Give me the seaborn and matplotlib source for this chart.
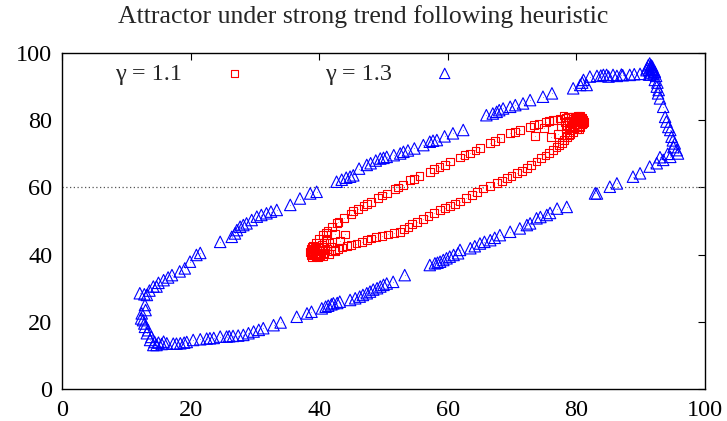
import numpy as np
import pandas as pd
import seaborn as sns
import matplotlib.pyplot as plt

# gamma = 1.1 : narrow elliptical attractor
red_x = [39.0, 39.5, 40.0, 40.6, 41.3, 42.0, 42.8, 43.8, 44.9, 46.0, 46.9, 48.0, 49.2, 50.5,
         51.8, 53.0, 54.1, 55.6, 57.2, 58.7, 60.3, 61.9, 63.5, 65.0, 66.6, 68.2, 69.7, 71.2,
         72.8, 74.1, 75.3, 76.4, 77.4, 78.3, 79.1, 79.8, 80.4, 80.9,
         81.1, 81.0, 80.6, 80.1, 79.5, 78.9, 78.5, 77.7, 76.9, 76.4, 75.2, 73.8, 72.3, 70.7,
         69.2, 67.6, 65.5, 63.7, 61.9, 60.3, 58.8, 57.0, 55.2, 53.9, 52.6, 50.7, 48.9, 47.4,
         45.8, 44.3, 43.0, 41.8, 40.8, 40.0, 39.3, 38.8, 38.6, 38.7,
         39.1, 39.6, 40.2, 39.4, 40.5, 41.2, 39.9, 40.6, 41.5, 42.4, 38.9, 41.0, 42.5, 43.2,
         44.0, 39.2, 39.8, 40.4, 41.6,
         79.6, 80.2, 80.5, 79.9, 78.8, 79.3, 80.0, 78.4, 77.6, 79.0, 80.8, 77.2, 76.0, 75.0,
         73.5, 80.3, 79.4, 78.0,
         41.0, 43.0, 45.3, 47.5, 49.8, 52.3, 54.8, 57.8, 59.5, 62.6, 64.3, 67.4, 70.5, 73.4,
         75.8, 77.0, 78.7, 79.4, 80.6,
         80.4, 79.0, 78.1, 77.3, 75.8, 74.5, 73.0, 71.5, 69.9, 68.4, 66.5, 64.6, 62.8, 61.1,
         59.5, 57.9, 56.1, 54.5, 53.2, 51.6, 49.8, 48.1, 46.6, 45.0, 43.6, 42.4,
         38.7, 39.0, 39.5, 40.2, 39.7, 40.9, 41.8, 40.0, 40.8, 38.9,
         80.9, 80.7, 80.1, 79.2, 80.4, 78.2, 79.7, 81.2, 80.0, 78.6]
red_y = [42.6, 43.6, 44.6, 45.8, 47.0, 48.2, 49.4, 50.8, 52.2, 53.6, 54.4, 55.6, 56.9, 58.2,
         59.6, 60.8, 62.2, 63.4, 64.7, 66.1, 67.7, 68.9, 70.1, 71.7, 73.1, 74.6, 76.1, 77.0,
         78.0, 78.8, 79.5, 80.1, 80.5, 80.8, 81.0, 81.1, 81.0, 80.6,
         80.0, 79.2, 78.1, 77.3, 76.4, 75.6, 75.1, 73.3, 72.0, 71.1, 69.5, 67.7, 65.8, 64.2,
         62.7, 61.2, 59.7, 57.7, 55.8, 54.5, 53.3, 51.5, 49.8, 48.2, 46.8, 46.0, 45.3, 44.3,
         43.3, 42.5, 41.8, 41.0, 40.4, 40.0, 39.8, 40.2, 40.9, 41.8,
         40.6, 41.2, 41.0, 42.0, 42.8, 41.6, 39.2, 39.5, 40.2, 41.0, 39.4, 44.0, 46.2, 44.2,
         46.0, 41.4, 40.3, 42.2, 43.4,
         79.8, 79.5, 80.3, 80.6, 79.7, 78.4, 78.8, 77.8, 78.4, 77.0, 79.6, 76.0, 75.0, 77.6,
         75.2, 81.2, 80.9, 81.4,
         46.6, 49.6, 52.9, 55.0, 57.6, 60.0, 62.6, 65.5, 66.8, 69.6, 71.0, 73.7, 76.6, 78.5,
         79.8, 80.1, 81.0, 80.5, 81.2,
         77.4, 76.0, 74.2, 72.7, 70.3, 68.7, 66.6, 64.9, 63.3, 61.9, 60.4, 58.7, 56.8, 55.1,
         53.9, 52.4, 50.6, 49.0, 47.5, 46.4, 45.6, 44.8, 43.8, 42.9, 42.1, 41.4,
         40.0, 41.0, 39.5, 39.6, 40.6, 41.4, 42.4, 42.0, 43.4, 42.2,
         79.0, 80.6, 80.9, 79.2, 78.3, 79.4, 77.7, 79.6, 80.0, 78.6]

# gamma = 1.3 : large loop attractor
blue_x = [14.7, 15.5, 16.3, 17.3, 18.4, 19.4, 20.4, 21.5, 22.5, 23.6, 24.6, 25.6, 26.6, 27.4,
          28.2, 29.8, 31.3, 32.9, 34.0, 36.5, 38.1, 38.8, 40.4, 41.4, 42.2, 43.2, 44.8, 45.6,
          46.3, 47.4, 48.4, 49.5, 50.5, 51.5, 53.3, 57.2, 58.0, 58.8, 59.8, 60.3, 61.6, 61.9,
          63.5, 65.0, 66.6, 68.1, 69.7, 71.2, 72.8, 73.8, 75.4, 77.0, 78.5, 82.9,
          83.2, 85.2, 86.3, 88.8, 89.9, 91.4, 92.5, 93.5, 94.6, 95.8, 95.6, 95.3, 94.8, 94.6,
          94.0, 93.5, 93.0, 92.7, 92.5, 92.2, 92.0, 91.7, 91.4, 91.2, 90.9, 91.5, 91.9, 91.6,
          91.3, 92.1, 91.8,
          89.9, 88.3, 86.3, 84.7, 83.2, 82.1, 81.1, 80.6, 79.5, 81.6, 84.2, 85.7, 87.2,
          76.2, 74.8, 72.8, 71.7, 69.7, 68.6, 67.6, 66.0, 62.4, 60.8, 58.3, 57.2, 56.2, 53.1,
          52.6, 50.5, 49.5, 47.4, 46.2, 44.8, 42.7, 39.6, 38.6, 37.0, 35.5, 33.4, 31.8, 30.3,
          28.7, 27.7, 26.9, 26.4, 24.6, 20.9, 19.9, 19.1, 17.1, 15.8, 14.7, 14.2, 13.2, 12.1,
          12.9,
          12.4, 12.6, 12.9, 13.2, 13.7, 14.2, 12.3, 12.8, 13.4, 13.9, 15.0, 15.8, 13.0, 14.4,
          41.0, 41.9, 42.8, 46.8, 47.9, 49.0, 50.0, 58.4, 59.3, 60.9, 64.2, 65.7, 67.3, 72.3,
          74.4, 75.9, 29.0, 30.6, 26.0, 23.0, 19.0, 17.8,
          43.5, 44.2, 45.3, 48.0, 48.8, 50.0, 51.6, 53.8, 54.8, 57.7, 59.5, 67.0, 68.0, 70.5,
          27.2, 28.2, 29.5, 31.0, 32.5, 18.3, 16.5, 15.0, 13.6, 12.8, 21.5,
          91.0, 91.3, 91.6, 91.9, 92.2, 91.5, 92.4, 92.6, 92.8,
          95.1, 95.0, 94.3, 93.8, 94.2, 93.0,
          87.0, 89.0, 83.8, 80.9, 85.0]
blue_y = [13.1, 13.4, 13.6, 13.5, 13.6, 14.0, 14.6, 14.8, 15.0, 15.2, 15.6, 15.6, 15.8, 15.9,
          16.1, 17.1, 18.1, 19.0, 19.8, 21.5, 22.5, 23.0, 24.0, 24.8, 25.5, 26.0, 26.5, 27.0,
          27.5, 28.5, 29.6, 30.5, 31.4, 31.9, 33.9, 36.9, 37.4, 37.9, 38.9, 39.4, 40.4, 41.4,
          41.9, 43.3, 44.3, 45.8, 46.8, 47.8, 49.3, 50.8, 51.8, 53.7, 54.2, 58.2,
          58.2, 60.2, 61.2, 63.2, 64.2, 66.2, 67.2, 68.2, 69.1, 70.1, 71.1, 73.1, 75.1, 77.1,
          79.6, 84.0, 86.5, 88.0, 90.0, 92.0, 93.9, 95.4, 96.9, 96.4, 94.9, 95.8, 95.0, 94.2,
          93.6, 94.6, 96.0,
          93.8, 93.5, 93.2, 93.5, 93.2, 93.0, 92.0, 90.5, 89.5, 90.5, 93.5, 93.5, 93.4,
          88.0, 87.0, 86.0, 85.0, 84.0, 83.5, 82.5, 81.5, 77.1, 76.1, 74.1, 73.6, 72.6, 70.6,
          70.1, 69.1, 68.6, 66.7, 65.6, 63.2, 61.7, 58.7, 58.2, 56.7, 54.8, 53.3, 52.3, 51.3,
          49.3, 48.3, 46.3, 45.3, 43.8, 39.9, 37.9, 35.9, 33.9, 32.4, 30.5, 30.5, 28.0, 28.5,
          25.0,
          22.5, 20.5, 18.5, 16.6, 14.6, 13.1, 21.0, 19.5, 17.5, 15.5, 13.8, 14.1, 23.5, 14.0,
          24.5, 25.2, 25.6, 28.0, 29.0, 30.0, 31.0, 37.6, 38.4, 39.9, 42.5, 43.8, 45.0, 48.8,
          51.2, 52.4, 16.6, 17.6, 15.7, 15.1, 13.8, 13.5,
          62.3, 62.9, 63.6, 67.2, 68.0, 68.8, 69.6, 71.0, 71.6, 73.9, 75.2, 82.0, 83.0, 84.5,
          47.3, 48.8, 50.3, 51.8, 52.8, 35.0, 33.2, 31.6, 29.3, 28.2, 40.5,
          95.5, 95.0, 96.4, 95.2, 94.4, 93.6, 93.2, 91.2, 89.0,
          72.0, 74.0, 78.0, 81.0, 70.0, 69.0,
          93.6, 93.7, 93.3, 91.2, 93.0]

label_a = "γ = 1.1"
label_b = "γ = 1.3"
title = "Attractor under strong trend following heuristic"
ticks = [0, 20, 40, 60, 80, 100]
ref_level = 60

sns.set_theme(style="white")
plt.rcParams["font.family"] = ["Liberation Serif", "DejaVu Serif"]

fig = plt.figure(figsize=(7.27, 4.21), dpi=100)
ax = fig.add_axes([0.0853, 0.076, 0.8844, 0.798])

df_a = pd.DataFrame({"x": red_x, "y": red_y})
df_b = pd.DataFrame({"x": blue_x, "y": blue_y})

ax.axhline(ref_level, color="#555555", linestyle=(0, (1, 2)), linewidth=0.9, zorder=1)

sns.scatterplot(data=df_a, x="x", y="y", ax=ax, marker="s", s=32, color="red",
                facecolor="none", edgecolor="red", linewidth=0.8, label=label_a, zorder=3)
sns.scatterplot(data=df_b, x="x", y="y", ax=ax, marker="^", s=68, color="blue",
                facecolor="none", edgecolor="blue", linewidth=0.8, label=label_b, zorder=2)
# tiny centre dots on each marker
ax.scatter(df_a["x"], df_a["y"], s=0.6, color="red", marker=".", linewidths=0, zorder=3)
ax.scatter(df_b["x"], df_b["y"], s=0.6, color="blue", marker=".", linewidths=0, zorder=2)

ax.set_xlim(0, 100)
ax.set_ylim(0, 100)
ax.set_xticks(ticks)
ax.set_yticks(ticks)
ax.set_xlabel("")
ax.set_ylabel("")
ax.tick_params(direction="in", length=5, width=0.8, top=True, right=True,
               labelsize=17.5, colors="black", pad=7)
ax.tick_params(axis="x", pad=8)
for sp in ax.spines.values():
    sp.set_color("black")
    sp.set_linewidth(1.0)

leg = ax.legend(loc="upper left", bbox_to_anchor=(0.067, 1.0), ncol=2, frameon=False,
                markerfirst=False, fontsize=17.5, handletextpad=1.18, columnspacing=2.7,
                borderaxespad=0.0, scatterpoints=1, markerscale=0.9)

fig.suptitle(title, y=0.988, fontsize=18.5)

fig.savefig("out.png", dpi=100)
